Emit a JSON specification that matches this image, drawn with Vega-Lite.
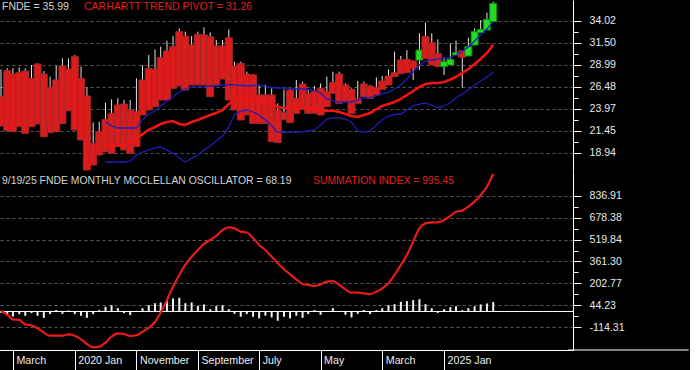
{
  "$schema": "https://vega.github.io/schema/vega-lite/v6.json",
  "background": "#000000",
  "padding": {"left": -5, "top": 0, "right": 0, "bottom": 0},
  "spacing": 0,
  "config": {
    "view": {"stroke": null},
    "font": "Liberation Sans",
    "concat": {"spacing": 0}
  },
  "datasets": {
    "fnde": [
      {"date":"2019-01-01","open":25.34,"high":28.46,"low":21.99,"close":21.99,"trend":"down","pivot":null,"upper":null,"lower":null,"osc":-10,"summation":4},
      {"date":"2019-02-01","open":28.31,"high":28.58,"low":21.46,"close":21.46,"trend":"down","pivot":null,"upper":null,"lower":null,"osc":-19,"summation":-25},
      {"date":"2019-03-01","open":27.93,"high":28.58,"low":21.34,"close":21.34,"trend":"down","pivot":null,"upper":null,"lower":null,"osc":-36,"summation":-57},
      {"date":"2019-04-01","open":28.08,"high":28.69,"low":21.91,"close":21.91,"trend":"down","pivot":null,"upper":null,"lower":null,"osc":-19,"summation":-61},
      {"date":"2019-05-01","open":28.27,"high":28.58,"low":21.15,"close":21.15,"trend":"down","pivot":null,"upper":null,"lower":null,"osc":-31,"summation":-93},
      {"date":"2019-06-01","open":27.43,"high":28.96,"low":21.91,"close":21.91,"trend":"down","pivot":null,"upper":null,"lower":null,"osc":-12,"summation":-100},
      {"date":"2019-07-01","open":29.07,"high":29.15,"low":22.22,"close":22.22,"trend":"down","pivot":null,"upper":null,"lower":null,"osc":-31,"summation":-122},
      {"date":"2019-08-01","open":27.93,"high":28.27,"low":20.77,"close":20.77,"trend":"down","pivot":null,"upper":null,"lower":null,"osc":-46,"summation":-153},
      {"date":"2019-09-01","open":26.41,"high":27.63,"low":21.23,"close":21.23,"trend":"down","pivot":null,"upper":null,"lower":null,"osc":-19,"summation":-175},
      {"date":"2019-10-01","open":27.25,"high":28.88,"low":21.34,"close":21.34,"trend":"down","pivot":null,"upper":null,"lower":null,"osc":10,"summation":-175},
      {"date":"2019-11-01","open":28.85,"high":29.72,"low":22.29,"close":22.29,"trend":"down","pivot":null,"upper":null,"lower":null,"osc":-17,"summation":-175},
      {"date":"2019-12-01","open":28.50,"high":29.72,"low":23.74,"close":23.74,"trend":"down","pivot":null,"upper":null,"lower":null,"osc":7,"summation":-165},
      {"date":"2020-01-01","open":29.91,"high":30.10,"low":21.53,"close":21.53,"trend":"down","pivot":null,"upper":null,"lower":null,"osc":-19,"summation":-175},
      {"date":"2020-02-01","open":27.43,"high":28.77,"low":20.39,"close":20.39,"trend":"down","pivot":null,"upper":null,"lower":null,"osc":-31,"summation":-201},
      {"date":"2020-03-01","open":25.42,"high":26.41,"low":16.96,"close":16.96,"trend":"down","pivot":null,"upper":null,"lower":null,"osc":-46,"summation":-235},
      {"date":"2020-04-01","open":20.01,"high":22.41,"low":17.53,"close":17.53,"trend":"down","pivot":null,"upper":null,"lower":null,"osc":-19,"summation":-259},
      {"date":"2020-05-01","open":21.34,"high":22.49,"low":18.68,"close":18.68,"trend":"down","pivot":null,"upper":null,"lower":null,"osc":10,"summation":-254},
      {"date":"2020-06-01","open":22.75,"high":24.66,"low":19.06,"close":19.06,"trend":"down","pivot":19.82,"upper":22.45,"lower":17.88,"osc":34,"summation":-225},
      {"date":"2020-07-01","open":23.44,"high":25.04,"low":18.87,"close":18.87,"trend":"down","pivot":19.82,"upper":21.99,"lower":17.88,"osc":46,"summation":-182},
      {"date":"2020-08-01","open":24.39,"high":25.15,"low":19.63,"close":19.63,"trend":"down","pivot":19.82,"upper":21.76,"lower":17.88,"osc":24,"summation":-158},
      {"date":"2020-09-01","open":24.50,"high":24.96,"low":19.25,"close":19.25,"trend":"down","pivot":19.82,"upper":21.76,"lower":17.88,"osc":-12,"summation":-163},
      {"date":"2020-10-01","open":23.82,"high":24.96,"low":18.87,"close":18.87,"trend":"down","pivot":20.05,"upper":21.76,"lower":17.99,"osc":-26,"summation":-177},
      {"date":"2020-11-01","open":23.63,"high":27.43,"low":19.63,"close":19.63,"trend":"down","pivot":20.51,"upper":21.76,"lower":18.68,"osc":2,"summation":-172},
      {"date":"2020-12-01","open":27.25,"high":28.96,"low":23.25,"close":23.25,"trend":"down","pivot":21.08,"upper":22.68,"lower":19.02,"osc":24,"summation":-146},
      {"date":"2021-01-01","open":28.58,"high":30.10,"low":23.82,"close":23.82,"trend":"down","pivot":21.54,"upper":23.36,"lower":19.25,"osc":46,"summation":-119},
      {"date":"2021-02-01","open":28.46,"high":30.75,"low":24.20,"close":24.20,"trend":"down","pivot":21.88,"upper":23.70,"lower":19.48,"osc":60,"summation":-74},
      {"date":"2021-03-01","open":29.80,"high":31.05,"low":24.96,"close":24.96,"trend":"down","pivot":22.22,"upper":24.28,"lower":19.59,"osc":65,"summation":-8},
      {"date":"2021-04-01","open":30.56,"high":31.74,"low":24.96,"close":24.96,"trend":"down","pivot":22.45,"upper":24.85,"lower":19.25,"osc":82,"summation":83},
      {"date":"2021-05-01","open":31.05,"high":32.27,"low":26.29,"close":26.29,"trend":"down","pivot":22.56,"upper":25.30,"lower":18.91,"osc":94,"summation":179},
      {"date":"2021-06-01","open":32.77,"high":33.15,"low":26.56,"close":26.56,"trend":"down","pivot":22.22,"upper":25.87,"lower":18.33,"osc":99,"summation":264},
      {"date":"2021-07-01","open":32.27,"high":32.77,"low":26.10,"close":26.10,"trend":"down","pivot":22.11,"upper":26.22,"lower":17.88,"osc":60,"summation":338},
      {"date":"2021-08-01","open":31.24,"high":32.27,"low":26.68,"close":26.68,"trend":"down","pivot":22.45,"upper":26.45,"lower":18.33,"osc":65,"summation":396},
      {"date":"2021-09-01","open":32.46,"high":32.77,"low":26.68,"close":26.68,"trend":"down","pivot":22.68,"upper":26.45,"lower":18.68,"osc":41,"summation":444},
      {"date":"2021-10-01","open":32.39,"high":33.26,"low":26.68,"close":26.68,"trend":"down","pivot":22.96,"upper":26.45,"lower":19.25,"osc":51,"summation":488},
      {"date":"2021-11-01","open":32.20,"high":32.69,"low":25.34,"close":25.34,"trend":"down","pivot":23.25,"upper":26.56,"lower":19.71,"osc":17,"summation":517},
      {"date":"2021-12-01","open":31.13,"high":31.82,"low":26.68,"close":26.68,"trend":"down","pivot":23.48,"upper":26.56,"lower":20.28,"osc":41,"summation":546},
      {"date":"2022-01-01","open":31.13,"high":31.82,"low":27.36,"close":27.36,"trend":"down","pivot":23.82,"upper":26.68,"lower":20.85,"osc":46,"summation":589},
      {"date":"2022-02-01","open":32.08,"high":33.03,"low":24.96,"close":24.96,"trend":"down","pivot":24.50,"upper":26.73,"lower":21.88,"osc":17,"summation":608},
      {"date":"2022-03-01","open":28.85,"high":29.34,"low":23.82,"close":23.82,"trend":"down","pivot":24.96,"upper":26.68,"lower":23.25,"osc":-17,"summation":601},
      {"date":"2022-04-01","open":29.15,"high":29.34,"low":22.68,"close":22.68,"trend":"down","pivot":25.08,"upper":26.62,"lower":23.70,"osc":-38,"summation":577},
      {"date":"2022-05-01","open":27.93,"high":28.20,"low":23.25,"close":23.25,"trend":"down","pivot":25.08,"upper":26.56,"lower":23.82,"osc":-19,"summation":571},
      {"date":"2022-06-01","open":27.82,"high":27.93,"low":22.29,"close":22.29,"trend":"down","pivot":25.02,"upper":26.62,"lower":23.59,"osc":-38,"summation":531},
      {"date":"2022-07-01","open":25.54,"high":26.68,"low":22.29,"close":22.29,"trend":"down","pivot":24.96,"upper":26.68,"lower":23.25,"osc":-50,"summation":481},
      {"date":"2022-08-01","open":25.54,"high":26.68,"low":22.29,"close":22.29,"trend":"down","pivot":24.96,"upper":26.45,"lower":22.68,"osc":-31,"summation":444},
      {"date":"2022-09-01","open":25.54,"high":26.29,"low":20.20,"close":20.20,"trend":"down","pivot":24.50,"upper":26.39,"lower":21.99,"osc":-43,"summation":396},
      {"date":"2022-10-01","open":23.82,"high":24.58,"low":20.09,"close":20.09,"trend":"down","pivot":24.16,"upper":26.33,"lower":21.30,"osc":-67,"summation":348},
      {"date":"2022-11-01","open":23.51,"high":26.18,"low":22.75,"close":22.75,"trend":"down","pivot":24.05,"upper":26.33,"lower":21.25,"osc":-38,"summation":305},
      {"date":"2022-12-01","open":26.10,"high":26.18,"low":22.37,"close":22.37,"trend":"down","pivot":24.05,"upper":26.28,"lower":21.30,"osc":-50,"summation":269},
      {"date":"2023-01-01","open":25.15,"high":27.25,"low":23.44,"close":23.44,"trend":"down","pivot":24.05,"upper":26.22,"lower":21.30,"osc":-31,"summation":232},
      {"date":"2023-02-01","open":26.79,"high":27.06,"low":24.01,"close":24.01,"trend":"down","pivot":24.05,"upper":26.22,"lower":21.36,"osc":-46,"summation":199},
      {"date":"2023-03-01","open":25.72,"high":26.18,"low":23.44,"close":23.44,"trend":"down","pivot":23.99,"upper":26.16,"lower":21.42,"osc":-19,"summation":192},
      {"date":"2023-04-01","open":25.91,"high":26.56,"low":23.44,"close":23.44,"trend":"down","pivot":23.93,"upper":26.10,"lower":21.54,"osc":10,"summation":184},
      {"date":"2023-05-01","open":26.29,"high":26.86,"low":23.25,"close":23.25,"trend":"down","pivot":23.82,"upper":25.76,"lower":22.11,"osc":-24,"summation":196},
      {"date":"2023-06-01","open":25.91,"high":27.63,"low":24.20,"close":24.20,"trend":"down","pivot":23.70,"upper":25.08,"lower":22.79,"osc":2,"summation":216},
      {"date":"2023-07-01","open":26.94,"high":28.20,"low":25.72,"close":25.72,"trend":"down","pivot":23.76,"upper":24.85,"lower":22.91,"osc":24,"summation":220},
      {"date":"2023-08-01","open":27.93,"high":28.20,"low":24.58,"close":24.58,"trend":"down","pivot":23.59,"upper":24.73,"lower":22.91,"osc":2,"summation":192},
      {"date":"2023-09-01","open":26.68,"high":26.86,"low":24.77,"close":24.77,"trend":"down","pivot":23.36,"upper":24.73,"lower":22.79,"osc":-24,"summation":160},
      {"date":"2023-10-01","open":26.18,"high":26.29,"low":23.44,"close":23.44,"trend":"down","pivot":23.13,"upper":24.73,"lower":22.45,"osc":-43,"summation":136},
      {"date":"2023-11-01","open":25.15,"high":27.13,"low":24.58,"close":24.58,"trend":"down","pivot":23.02,"upper":24.96,"lower":21.42,"osc":-17,"summation":136},
      {"date":"2023-12-01","open":26.79,"high":27.06,"low":25.34,"close":25.34,"trend":"down","pivot":23.25,"upper":25.19,"lower":21.30,"osc":10,"summation":131},
      {"date":"2024-01-01","open":26.56,"high":26.68,"low":25.15,"close":25.15,"trend":"down","pivot":23.48,"upper":25.25,"lower":21.42,"osc":-19,"summation":126},
      {"date":"2024-02-01","open":26.41,"high":27.55,"low":25.54,"close":25.54,"trend":"down","pivot":23.93,"upper":25.42,"lower":22.11,"osc":10,"summation":143},
      {"date":"2024-03-01","open":27.13,"high":27.70,"low":26.18,"close":26.18,"trend":"down","pivot":24.28,"upper":25.65,"lower":22.68,"osc":24,"summation":167},
      {"date":"2024-04-01","open":27.70,"high":28.46,"low":26.68,"close":26.68,"trend":"down","pivot":24.50,"upper":25.87,"lower":23.13,"osc":46,"summation":204},
      {"date":"2024-05-01","open":28.08,"high":30.48,"low":27.63,"close":27.63,"trend":"down","pivot":24.73,"upper":26.22,"lower":23.31,"osc":53,"summation":264},
      {"date":"2024-06-01","open":29.53,"high":29.99,"low":28.01,"close":28.01,"trend":"down","pivot":25.08,"upper":26.68,"lower":23.36,"osc":70,"summation":336},
      {"date":"2024-07-01","open":29.61,"high":30.67,"low":28.08,"close":28.08,"trend":"down","pivot":25.53,"upper":27.36,"lower":23.82,"osc":75,"summation":408},
      {"date":"2024-08-01","open":29.42,"high":29.50,"low":27.25,"close":28.58,"trend":"down","pivot":25.99,"upper":28.16,"lower":24.28,"osc":82,"summation":505},
      {"date":"2024-09-01","open":29.53,"high":32.58,"low":28.39,"close":30.67,"trend":"up","pivot":26.45,"upper":28.96,"lower":24.50,"osc":89,"summation":601},
      {"date":"2024-10-01","open":32.20,"high":33.80,"low":29.72,"close":29.72,"trend":"down","pivot":26.79,"upper":29.42,"lower":24.62,"osc":53,"summation":637},
      {"date":"2024-11-01","open":31.51,"high":32.58,"low":28.96,"close":28.96,"trend":"down","pivot":26.90,"upper":29.53,"lower":24.39,"osc":24,"summation":644},
      {"date":"2024-12-01","open":30.29,"high":31.89,"low":28.77,"close":28.77,"trend":"down","pivot":26.90,"upper":29.64,"lower":24.05,"osc":-10,"summation":644},
      {"date":"2025-01-01","open":28.77,"high":29.84,"low":27.82,"close":29.34,"trend":"up","pivot":27.02,"upper":29.70,"lower":24.28,"osc":17,"summation":661},
      {"date":"2025-02-01","open":28.96,"high":31.44,"low":28.96,"close":29.61,"trend":"up","pivot":27.30,"upper":29.87,"lower":24.62,"osc":31,"summation":690},
      {"date":"2025-03-01","open":30.10,"high":31.74,"low":30.10,"close":30.37,"trend":"up","pivot":27.59,"upper":30.10,"lower":25.19,"osc":38,"summation":721},
      {"date":"2025-04-01","open":30.60,"high":30.67,"low":26.37,"close":29.84,"trend":"down","pivot":28.05,"upper":30.56,"lower":25.65,"osc":10,"summation":729},
      {"date":"2025-05-01","open":29.99,"high":32.08,"low":29.99,"close":31.05,"trend":"up","pivot":28.50,"upper":31.02,"lower":26.10,"osc":24,"summation":758},
      {"date":"2025-06-01","open":31.24,"high":33.15,"low":31.24,"close":32.77,"trend":"up","pivot":29.07,"upper":31.70,"lower":26.68,"osc":38,"summation":794},
      {"date":"2025-07-01","open":32.65,"high":34.10,"low":32.65,"close":33.03,"trend":"up","pivot":29.64,"upper":32.39,"lower":27.13,"osc":51,"summation":842},
      {"date":"2025-08-01","open":32.96,"high":34.94,"low":32.96,"close":34.18,"trend":"up","pivot":30.33,"upper":33.07,"lower":27.59,"osc":58,"summation":902},
      {"date":"2025-09-01","open":33.91,"high":36.20,"low":33.91,"close":35.99,"trend":"up","pivot":31.26,"upper":33.87,"lower":28.16,"osc":68.19,"summation":995.45}
    ]
  },
  "vconcat": [
    {
      "width": 577,
      "height": 172,
      "data": {"name": "fnde"},
      "layer": [
        {
          "mark": {"type": "rule", "color": "#e4e4e4", "strokeWidth": 1, "clip": true},
          "encoding": {
            "x": {"field": "date", "type": "temporal", "scale": {"type": "utc", "domain": [{"year": 2019, "month": 1, "date": 1, "utc": true}, {"year": 2026, "month": 9, "date": 6, "utc": true}], "nice": false}, "axis": null},
            "y": {
              "field": "low", "type": "quantitative", "title": null,
              "scale": {"domain": [16.736, 36.385], "nice": false, "zero": false},
              "axis": {
                "orient": "right",
                "title": null,
                "tickCount": 30,
                "values": [18.94, 20.195, 21.45, 22.71, 23.97, 25.225, 26.48, 27.735, 28.99, 30.245, 31.5, 32.76, 34.02],
                "labelExpr": "abs((datum.value - 18.94) / 2.513 - round((datum.value - 18.94) / 2.513)) < 0.2 ? format(datum.value, '.2f') : ''",
                "domainColor": "#ffffff",
                "domainWidth": 1,
                "tickColor": "#ffffff",
                "tickSize": {"condition": {"test": "abs((datum.value - 18.94) / 2.513 - round((datum.value - 18.94) / 2.513)) < 0.2", "value": 8}, "value": 5},
                "labelPadding": 8,
                "labelColor": "#e8e8e8",
                "labelFont": "Liberation Sans",
                "labelFontSize": 10.6,
                "labelBaseline": "middle",
                "labelOverlap": false,
                "labelFlush": false,
                "grid": true,
                "gridColor": "#5c5c5c",
                "gridDash": [3, 3],
                "gridOpacity": {"condition": {"test": "abs((datum.value - 18.94) / 2.513 - round((datum.value - 18.94) / 2.513)) < 0.2", "value": 1}, "value": 0}
              }
            },
            "y2": {"field": "high"}
          }
        },
        {
          "mark": {"type": "bar", "size": 7, "clip": true, "strokeWidth": 1},
          "encoding": {
            "x": {"field": "date", "type": "temporal"},
            "y": {"field": "open", "type": "quantitative", "title": null},
            "y2": {"field": "close"},
            "color": {"field": "trend", "type": "nominal", "scale": {"domain": ["down", "up"], "range": ["#dc1c1c", "#22dc22"]}, "legend": null},
            "stroke": {"field": "trend", "type": "nominal", "scale": {"domain": ["down", "up"], "range": ["#a02828", "#0f8f0f"]}, "legend": null}
          }
        },
        {
          "mark": {"type": "line", "color": "#1f1fb8", "strokeWidth": 1.3, "clip": true},
          "encoding": {
            "x": {"field": "date", "type": "temporal"},
            "y": {"field": "upper", "type": "quantitative", "title": null}
          }
        },
        {
          "mark": {"type": "line", "color": "#1f1fb8", "strokeWidth": 1.3, "clip": true},
          "encoding": {
            "x": {"field": "date", "type": "temporal"},
            "y": {"field": "lower", "type": "quantitative", "title": null}
          }
        },
        {
          "mark": {"type": "line", "color": "#f01414", "strokeWidth": 2.6, "clip": true},
          "encoding": {
            "x": {"field": "date", "type": "temporal"},
            "y": {"field": "pivot", "type": "quantitative", "title": null}
          }
        },
        {
          "data": {"values": [{}]},
          "mark": {"type": "text", "align": "left", "baseline": "middle", "dx": 1, "color": "#d4d4d4", "font": "Liberation Sans", "fontSize": 10.5},
          "encoding": {
            "x": {"datum": {"year": 2019, "month": 1, "date": 1, "utc": true}, "type": "temporal"},
            "y": {"datum": 35.59, "type": "quantitative"},
            "text": {"value": "FNDE = 35.99"}
          }
        },
        {
          "data": {"values": [{}]},
          "mark": {"type": "text", "align": "left", "baseline": "middle", "dx": 83, "color": "#e21e1e", "font": "Liberation Sans", "fontSize": 10.5},
          "encoding": {
            "x": {"datum": {"year": 2019, "month": 1, "date": 1, "utc": true}, "type": "temporal"},
            "y": {"datum": 35.59, "type": "quantitative"},
            "text": {"value": "CARHARTT TREND PIVOT = 31.26"}
          }
        }
      ]
    },
    {
      "width": 577,
      "height": 178,
      "data": {"name": "fnde"},
      "layer": [
        {
          "mark": {"type": "bar", "size": 2, "color": "#f2f2f2", "clip": true},
          "encoding": {
            "x": {
              "field": "date", "type": "temporal",
              "scale": {"type": "utc", "domain": [{"year": 2019, "month": 1, "date": 1, "utc": true}, {"year": 2026, "month": 9, "date": 6, "utc": true}], "nice": false},
              "axis": {
                "title": null,
                "values": [
                  {"year": 2019, "month": 3, "date": 1, "utc": true},
                  {"year": 2020, "month": 1, "date": 1, "utc": true},
                  {"year": 2020, "month": 11, "date": 1, "utc": true},
                  {"year": 2021, "month": 9, "date": 1, "utc": true},
                  {"year": 2022, "month": 7, "date": 1, "utc": true},
                  {"year": 2023, "month": 5, "date": 1, "utc": true},
                  {"year": 2024, "month": 3, "date": 1, "utc": true},
                  {"year": 2025, "month": 1, "date": 1, "utc": true}
                ],
                "tickCount": 30,
                "labelExpr": "utcmonth(datum.value) == 0 ? utcFormat(datum.value, '%Y Jan') : utcFormat(datum.value, '%B')",
                "domainColor": "#ffffff",
                "tickColor": "#ffffff",
                "tickSize": 20,
                "labelAlign": "left",
                "labelBaseline": "middle",
                "labelPadding": -10,
                "labelOffset": 3,
                "labelColor": "#ececec",
                "labelFont": "Liberation Sans",
                "labelFontSize": 10.7,
                "labelOverlap": false,
                "labelFlush": false,
                "grid": false
              }
            },
            "y": {
              "field": "osc", "type": "quantitative", "title": null,
              "scale": {"domain": [-278.4, 1008.2], "nice": false, "zero": false},
              "axis": {
                "orient": "right",
                "title": null,
                "tickCount": 30,
                "values": [-114.31, -35.04, 44.23, 123.5, 202.77, 282.035, 361.3, 440.57, 519.84, 599.11, 678.38, 757.645, 836.91],
                "labelExpr": "abs((datum.value + 114.31) / 158.537 - round((datum.value + 114.31) / 158.537)) < 0.2 ? replace(format(datum.value, '.2f'), '\u2212', '-') : ''",
                "domainColor": "#ffffff",
                "domainWidth": 1,
                "tickColor": "#ffffff",
                "tickSize": {"condition": {"test": "abs((datum.value + 114.31) / 158.537 - round((datum.value + 114.31) / 158.537)) < 0.2", "value": 8}, "value": 5},
                "labelPadding": 8,
                "labelColor": "#e8e8e8",
                "labelFont": "Liberation Sans",
                "labelFontSize": 10.6,
                "labelBaseline": "middle",
                "labelOverlap": false,
                "labelFlush": false,
                "grid": true,
                "gridColor": "#5c5c5c",
                "gridDash": [3, 3],
                "gridOpacity": {"condition": {"test": "abs((datum.value + 114.31) / 158.537 - round((datum.value + 114.31) / 158.537)) < 0.2", "value": 1}, "value": 0}
              }
            },
            "y2": {"datum": 0}
          }
        },
        {
          "data": {"values": [{}]},
          "mark": {"type": "rule", "color": "#ffffff", "strokeWidth": 1},
          "encoding": {
            "y": {"datum": 0, "type": "quantitative"}
          }
        },
        {
          "mark": {"type": "line", "color": "#e81a1a", "strokeWidth": 2.2, "interpolate": "monotone", "clip": true},
          "encoding": {
            "x": {"field": "date", "type": "temporal"},
            "y": {"field": "summation", "type": "quantitative", "title": null}
          }
        },
        {
          "data": {"values": [{}]},
          "mark": {"type": "text", "align": "left", "baseline": "middle", "dx": 1, "color": "#d4d4d4", "font": "Liberation Sans", "fontSize": 10.4},
          "encoding": {
            "x": {"datum": {"year": 2019, "month": 1, "date": 1, "utc": true}, "type": "temporal"},
            "y": {"datum": 943, "type": "quantitative"},
            "text": {"value": "9/19/25  FNDE MONTHLY MCCLELLAN OSCILLATOR = 68.19"}
          }
        },
        {
          "data": {"values": [{}]},
          "mark": {"type": "text", "align": "left", "baseline": "middle", "dx": 312, "color": "#e21e1e", "font": "Liberation Sans", "fontSize": 10.4},
          "encoding": {
            "x": {"datum": {"year": 2019, "month": 1, "date": 1, "utc": true}, "type": "temporal"},
            "y": {"datum": 943, "type": "quantitative"},
            "text": {"value": "SUMMATION INDEX = 995.45"}
          }
        },
        {
          "data": {"values": [{}]},
          "mark": {"type": "rule", "color": "#ffffff", "strokeWidth": 1},
          "encoding": {
            "x": {"datum": {"year": 2026, "month": 9, "date": 6, "utc": true}, "type": "temporal"},
            "x2": {"datum": {"year": 2028, "month": 4, "date": 25, "utc": true}},
            "y": {"datum": -278.4, "type": "quantitative"}
          }
        }
      ]
    }
  ]
}
